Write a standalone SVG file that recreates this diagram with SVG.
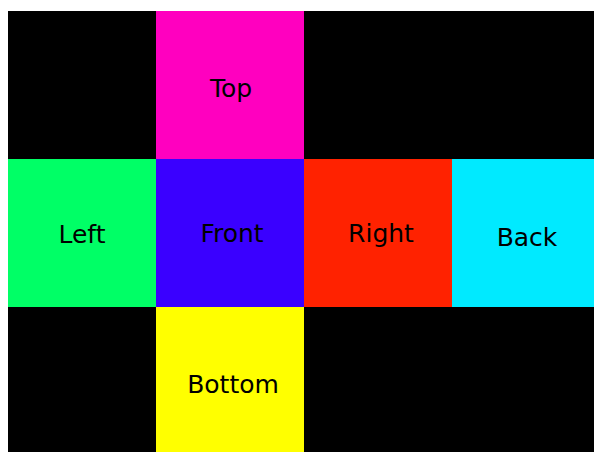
<svg xmlns="http://www.w3.org/2000/svg" width="594" height="452" viewBox="0 0 594 452">
<style>
text{font-family:"DejaVu Sans",Verdana,sans-serif;font-size:25px;fill:#000;text-anchor:middle}
</style>
<rect x="0" y="0" width="594" height="452" fill="#fff"/>
<rect x="8" y="11" width="586" height="441" fill="#000"/>
<g id="top"><rect x="156" y="11" width="148" height="148" fill="#FF00BF"/><text x="231" y="97">Top</text></g>
<g id="left"><rect x="8" y="159" width="148" height="148" fill="#00FF66"/><text x="82" y="243">Left</text></g>
<g id="front"><rect x="156" y="159" width="148" height="148" fill="#3A00FF"/><text x="232" y="242">Front</text></g>
<g id="right"><rect x="304" y="159" width="148" height="148" fill="#FF2200"/><text x="381" y="242">Right</text></g>
<g id="back"><rect x="452" y="159" width="142" height="148" fill="#00EAFF"/><text x="527" y="246">Back</text></g>
<g id="bottom"><rect x="156" y="307" width="148" height="145" fill="#FFFF00"/><text x="233" y="393">Bottom</text></g>
<g id="connectors"></g>
</svg>
